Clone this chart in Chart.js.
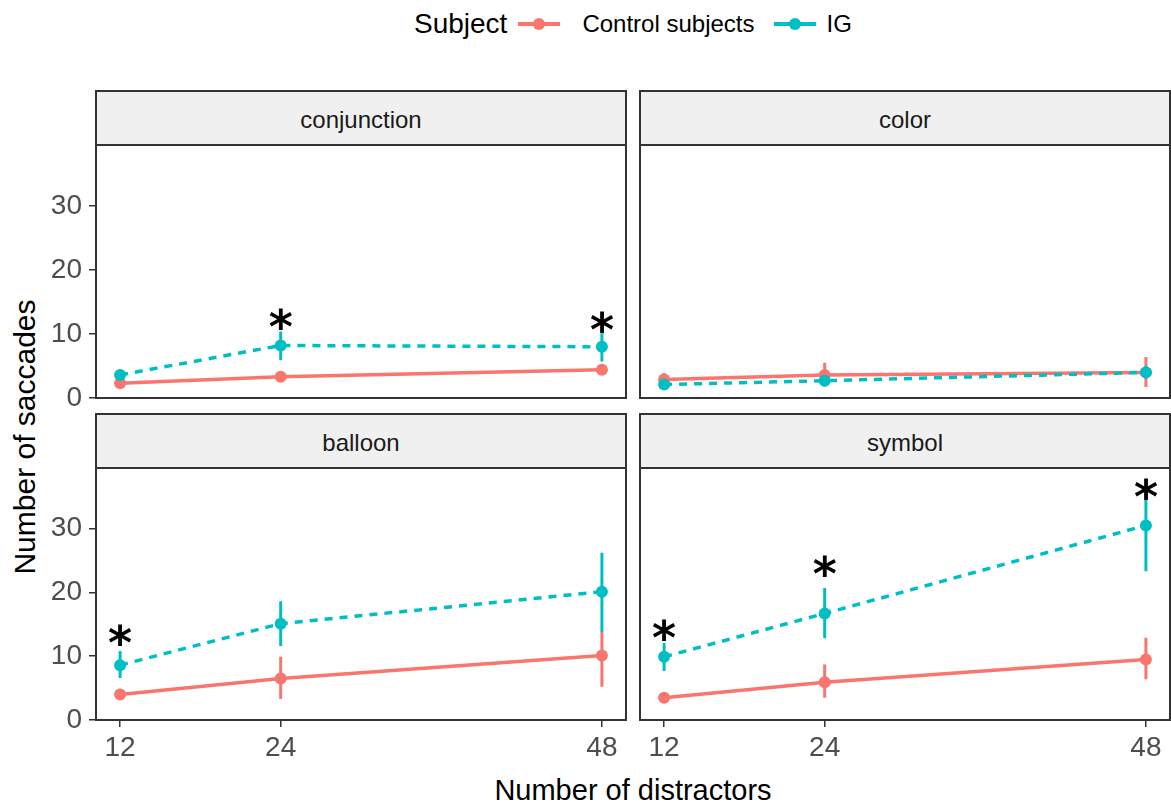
<!DOCTYPE html>
<html>
<head>
<meta charset="utf-8">
<script src="https://cdn.jsdelivr.net/npm/chart.js@4.4.1/dist/chart.umd.min.js"></script>
<style>
  body { margin: 0; width: 1171px; height: 809px; background: #fff; position: relative; overflow: hidden;
         font-family: 'Liberation Sans', Arial, sans-serif; }
  canvas { position: absolute; }
  .strip { position: absolute; background: #f0f0f0; border: 2px solid #333; box-sizing: border-box;
           text-align: center; font-size: 24px; color: #1a1a1a; }
  #legend { position: absolute; left: 414px; top: 7px; height: 34px; display: flex; align-items: center; color: #000; }
  #legend .title { font-size: 28px; }
  #legend .lab { font-size: 24px; }
  .key { position: relative; width: 42px; height: 4px; }
  .key::after { content: ''; position: absolute; left: 15px; top: -4px; width: 12px; height: 12px;
                border-radius: 50%; background: inherit; }
  #xtitle { position: absolute; left: 0; width: 1266px; top: 773px; text-align: center; font-size: 29px; line-height: 34px; }
  #ytitle { position: absolute; left: 25px; top: 437px; font-size: 30px; white-space: nowrap;
            transform: translate(-50%, -50%) rotate(-90deg); }
</style>
</head>
<body>
<div id="legend">
  <span class="title">Subject</span>
  <span class="key" style="background:#F8766D;margin:0 22px 0 11px"></span>
  <span class="lab">Control subjects</span>
  <span class="key" style="background:#00BFC4;margin:0 10px 0 20px"></span>
  <span class="lab">IG</span>
</div>
<div id="xtitle">Number of distractors</div>
<div id="ytitle">Number of saccades</div>

<script>
// ---- data ----
const distractors = [12, 24, 48];
const panelNames = ['conjunction', 'color', 'balloon', 'symbol'];
const yTickValues = [0, 10, 20, 30];

// one row per panel, same order as panelNames
const controlMean = [[2.3, 3.3, 4.4], [2.9, 3.6, 4.0], [4.0, 6.5, 10.1], [3.5, 5.9, 9.5]];
const controlLow  = [[1.8, 2.8, 3.8], [2.0, 1.8, 1.7], [3.4, 3.3, 5.2], [2.9, 3.5, 6.4]];
const controlHigh = [[2.8, 3.8, 5.0], [3.9, 5.5, 6.4], [4.6, 9.9, 13.8], [4.1, 8.7, 12.9]];
const igMean = [[3.6, 8.2, 8.0], [2.1, 2.7, 4.0], [8.6, 15.1, 20.1], [9.9, 16.7, 30.5]];
const igLow  = [[3.0, 5.9, 5.7], [1.4, 2.1, 3.0], [6.6, 11.6, 13.8], [7.7, 12.8, 23.3]];
const igHigh = [[4.2, 10.4, 10.1], [2.8, 3.3, 5.0], [10.8, 18.6, 26.2], [12.1, 20.7, 35.7]];
// significance stars (null = none)
const starY = [[null, 12.4, 11.9], [null, null, null], [13.4, null, null], [14.1, 24.1, 36.2]];

const controlColor = '#F8766D';
const igColor = '#00BFC4';

// plot rectangles of the four facets
const panelRects = [
  { L: 96, T: 145, R: 626, B: 398 },
  { L: 640, T: 145, R: 1170, B: 398 },
  { L: 96, T: 468, R: 626, B: 720 },
  { L: 640, T: 468, R: 1170, B: 720 }
];
const stripHeight = 55;

function toPoints(values) {
  return distractors.map((x, i) => ({ x: x, y: values[i] }));
}

// vertical error bars as one broken line
function errorBars(low, high) {
  const pts = [];
  distractors.forEach((x, i) => {
    pts.push({ x: x, y: low[i] }, { x: x, y: high[i] }, { x: x, y: null });
  });
  return pts;
}

const panelBorder = {
  id: 'panelBorder',
  afterDraw(chart) {
    const a = chart.chartArea;
    const ctx = chart.ctx;
    ctx.save();
    ctx.strokeStyle = '#333';
    ctx.lineWidth = 2;
    ctx.strokeRect(a.left, a.top, a.right - a.left, a.bottom - a.top);
    ctx.restore();
  }
};

const stars = {
  id: 'stars',
  afterDatasetsDraw(chart, args, opts) {
    const ctx = chart.ctx;
    const x = chart.scales.x, y = chart.scales.y;
    ctx.save();
    ctx.font = 'bold 46px "DejaVu Sans"';
    ctx.fillStyle = '#000';
    ctx.textAlign = 'center';
    const m = ctx.measureText('*');
    const shift = (m.actualBoundingBoxAscent - m.actualBoundingBoxDescent) / 2;
    opts.values.forEach((v, i) => {
      if (v === null) return;
      ctx.fillText('*', x.getPixelForValue(distractors[i]), y.getPixelForValue(v) + shift);
    });
    ctx.restore();
  }
};

const tickFont = { family: "'Liberation Sans', Arial, sans-serif", size: 28 };

panelNames.forEach((name, i) => {
  const r = panelRects[i];
  const isLeft = i % 2 === 0;
  const isBottom = i >= 2;
  const yW = isLeft ? 96 : 0;
  const xH = isBottom ? 52 : 0;
  // top panels keep some room below so the "0" label is not cut
  const pad = { left: isLeft ? 0 : 2, top: 2, right: 2, bottom: isBottom ? 0 : 14 };

  // strip header
  const strip = document.createElement('div');
  strip.className = 'strip';
  strip.textContent = name;
  strip.style.left = (r.L - 1) + 'px';
  strip.style.top = (r.T - stripHeight) + 'px';
  strip.style.width = (r.R - r.L + 2) + 'px';
  strip.style.height = (stripHeight + 1) + 'px';
  strip.style.lineHeight = (stripHeight + 1) + 'px';
  document.body.appendChild(strip);

  const canvas = document.createElement('canvas');
  canvas.width = (r.R - r.L) + yW + pad.left + pad.right;
  canvas.height = (r.B - r.T) + pad.top + pad.bottom + xH;
  canvas.style.left = (r.L - yW - pad.left) + 'px';
  canvas.style.top = (r.T - pad.top) + 'px';
  document.body.appendChild(canvas);

  new Chart(canvas.getContext('2d'), {
    type: 'line',
    data: {
      datasets: [
        { data: errorBars(igLow[i], igHigh[i]), borderColor: igColor, borderWidth: 3,
          pointRadius: 0, spanGaps: false, order: 1 },
        { data: toPoints(igMean[i]), borderColor: igColor, backgroundColor: igColor, borderWidth: 3.5,
          borderDash: [8, 7], pointRadius: 6, pointBorderWidth: 0, order: 2 },
        { data: errorBars(controlLow[i], controlHigh[i]), borderColor: controlColor, borderWidth: 3,
          pointRadius: 0, spanGaps: false, order: 3 },
        { data: toPoints(controlMean[i]), borderColor: controlColor, backgroundColor: controlColor,
          borderWidth: 3.5, pointRadius: 6, pointBorderWidth: 0, order: 4 }
      ]
    },
    options: {
      responsive: false,
      animation: false,
      events: [],
      layout: { padding: pad, autoPadding: false },
      plugins: {
        legend: { display: false },
        tooltip: { enabled: false },
        stars: { values: starY[i] }
      },
      scales: {
        x: {
          type: 'linear', min: 10.2, max: 49.8, display: isBottom,
          afterBuildTicks: s => { s.ticks = distractors.map(v => ({ value: v })); },
          afterFit: s => { s.height = xH; s.paddingLeft = 0; s.paddingRight = 0; },
          border: { display: false },
          grid: { drawOnChartArea: false, tickLength: 7, tickColor: '#333', lineWidth: 1.5 },
          ticks: { font: tickFont, color: '#4d4d4d', padding: 4, maxRotation: 0 }
        },
        y: {
          type: 'linear', min: 0, max: 39.5, display: isLeft,
          afterBuildTicks: s => { s.ticks = yTickValues.map(v => ({ value: v })); },
          afterFit: s => { s.width = yW; s.paddingTop = 0; s.paddingBottom = 0; },
          border: { display: false },
          grid: { drawOnChartArea: false, tickLength: 7, tickColor: '#333', lineWidth: 1.5 },
          ticks: { font: tickFont, color: '#4d4d4d', padding: 7 }
        }
      }
    },
    plugins: [panelBorder, stars]
  });
});
</script>
</body>
</html>
